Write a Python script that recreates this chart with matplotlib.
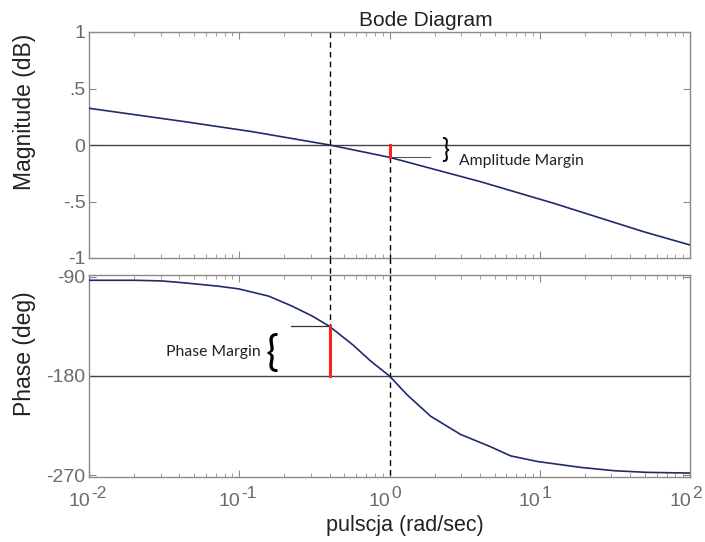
import numpy as np
import matplotlib
matplotlib.use("Agg")
import matplotlib.pyplot as plt
import matplotlib.transforms as mtransforms
from matplotlib.ticker import LogLocator, FixedLocator, NullFormatter

# ---- data ----
mag_w = [0.01, 0.0436, 0.122, 0.4, 1.0, 4.04, 12.4, 49.0, 100.0]
mag_db = [0.325, 0.206, 0.118, 0.0, -0.109, -0.325, -0.516, -0.767, -0.885]

ph_w = [0.01, 0.0203, 0.0305, 0.0436, 0.0728, 0.099, 0.157, 0.224, 0.305, 0.4, 0.575, 0.746,
        1.0, 1.31, 1.88, 2.97, 4.65, 6.4, 9.64, 18.8, 31.3, 52.0, 100.0]
ph_deg = [-93.0, -93.0, -93.6, -95.4, -98.4, -100.8, -107.4, -116.4, -125.4, -135.0, -152.1,
          -166.2, -180.0, -197.1, -216.6, -233.1, -244.0, -252.6, -257.7, -263.1, -266.1,
          -267.6, -268.2]

wc_gain = 0.4      # gain crossover (rad/s)
wc_phase = 1.0     # phase crossover (rad/s)
gain_margin_db = -0.109
phase_at_wc = -135.0

mag_ticks = [1, 0.5, 0, -0.5, -1]
mag_ticklabels = ["1", ".5", "0", "-.5", "-1"]
ph_ticks = [-90, -180, -270]
ph_ticklabels = ["-90", "-180", "-270"]
x_ticks = [0.01, 0.1, 1.0, 10.0, 100.0]
x_tick_exps = ["-2", "-1", "0", "1", "2"]

title = "Bode Diagram"
xlabel = "pulscja (rad/sec)"
ylabel_mag = "Magnitude (dB)"
ylabel_ph = "Phase (deg)"

# ---- style ----
plt.rcParams['font.family'] = ['Liberation Sans', 'DejaVu Sans']
curve_col = '#1f2b6e'
spine_col = '#8a8a8a'
tick_lbl_col = '#6a6a6a'
label_col = '#222222'
dash = (0, (4, 3))
W, H = 705, 542
fig = plt.figure(figsize=(W / 100, H / 100), dpi=100)

def fx(px):
    return px / W

def fy(py):
    return 1 - py / H

ax1 = fig.add_axes([fx(89), fy(258), fx(690) - fx(89), fy(32) - fy(258)])
ax2 = fig.add_axes([fx(89), fy(477), fx(690) - fx(89), fy(275) - fy(477)])

for ax in (ax1, ax2):
    ax.set_xscale('log')
    ax.set_xlim(0.01, 100)
    for s in ax.spines.values():
        s.set_color(spine_col)
        s.set_linewidth(1.0)
    ax.tick_params(which='both', direction='in', top=True, right=True, color=spine_col,
                   labelcolor=tick_lbl_col, labelsize=14, pad=2.5)
    ax.tick_params(which='major', length=5)
    ax.tick_params(which='minor', length=3)
    ax.xaxis.set_major_locator(FixedLocator(x_ticks))
    ax.xaxis.set_minor_locator(LogLocator(base=10, subs=np.arange(2, 10), numticks=20))
    ax.xaxis.set_minor_formatter(NullFormatter())
    ax.tick_params(axis='x', labelbottom=False)

# magnitude
ax1.plot(mag_w, mag_db, color=curve_col, lw=1.2, zorder=3)
ax1.axhline(0, color='#444444', lw=1.0, zorder=2)
ax1.set_ylim(-1, 1)
ax1.yaxis.set_major_locator(FixedLocator(mag_ticks))
ax1.set_yticklabels(mag_ticklabels)
ax1.plot([wc_phase, wc_phase], [0, gain_margin_db], color='#ff2020', lw=2.2, zorder=4)
ax1.plot([wc_gain, wc_gain], [1, -1], color='black', lw=1.0, ls=dash, zorder=2)
ax1.plot([wc_phase, wc_phase], [gain_margin_db, -1], color='black', lw=1.0, ls=dash, zorder=2)
ax1.set_ylabel(ylabel_mag, fontsize=16.5, color=label_col)
ax1.yaxis.set_label_coords((36 - 89) / 601, (258 - 112) / 226)

# phase
ax2.plot(ph_w, ph_deg, color=curve_col, lw=1.2, zorder=3)
ax2.axhline(-180, color='#444444', lw=1.0, zorder=2)
ax2.set_ylim(-271.8, -88.2)
ax2.yaxis.set_major_locator(FixedLocator(ph_ticks))
ax2.set_yticklabels(ph_ticklabels)
ax2.plot([wc_gain, wc_gain], [-180, phase_at_wc], color='#ff2020', lw=2.2, zorder=4)
ax2.plot([wc_gain, wc_gain], [-88.2, phase_at_wc], color='black', lw=1.0, ls=dash, zorder=2)
ax2.plot([wc_phase, wc_phase], [-88.2, -271.8], color='black', lw=1.0, ls=dash, zorder=2)
ax2.set_ylabel(ylabel_ph, fontsize=16.5, color=label_col)
ax2.yaxis.set_label_coords((36 - 89) / 601, (477 - 354) / 202)

# x tick labels as 10^n with large exponents (MATLAB style)
trx = mtransforms.blended_transform_factory(ax2.transData, fig.transFigure)
for v, e in zip(x_ticks, x_tick_exps):
    ax2.text(v, fy(502), "10", transform=mtransforms.offset_copy(trx, fig, x=1, y=0, units='dots'),
             ha='right', va='center', fontsize=14, color=tick_lbl_col, clip_on=False)
    ax2.text(v, fy(493), e, transform=mtransforms.offset_copy(trx, fig, x=2, y=0, units='dots'),
             ha='left', va='center', fontsize=12.5, color=tick_lbl_col, clip_on=False)

# dashed lines through the gap between the axes
tr = mtransforms.blended_transform_factory(ax1.transData, fig.transFigure)
for w in (wc_gain, wc_phase):
    fig.add_artist(plt.Line2D([w, w], [fy(258), fy(275)], transform=tr, color='black',
                              lw=1.0, ls=dash))

# annotations
ax1.plot([1.03, 1.85], [gain_margin_db, gain_margin_db], color='#555555', lw=0.8, zorder=2)
fig.text(fx(445), fy(151), "}", fontsize=19, family='Lato', ha='center', va='center')
fig.text(fx(459), fy(161), "Amplitude Margin", fontsize=11.3, family='Lato', ha='left',
         va='center', color=label_col)
ax2.plot([0.22, 0.4], [phase_at_wc, phase_at_wc], color='#333333', lw=0.9, zorder=2)
fig.text(fx(272), fy(353), "{", fontsize=31, family='Lato', ha='center', va='center')
fig.text(fx(261), fy(352), "Phase Margin", fontsize=11.3, family='Lato', ha='right',
         va='center', color=label_col)

fig.text(fx(426), fy(21), title, fontsize=15, ha='center', va='center', color=label_col)
fig.text(fx(405), fy(525), xlabel, fontsize=15.5, ha='center', va='center', color=label_col)

fig.savefig("out.png", dpi=100)
